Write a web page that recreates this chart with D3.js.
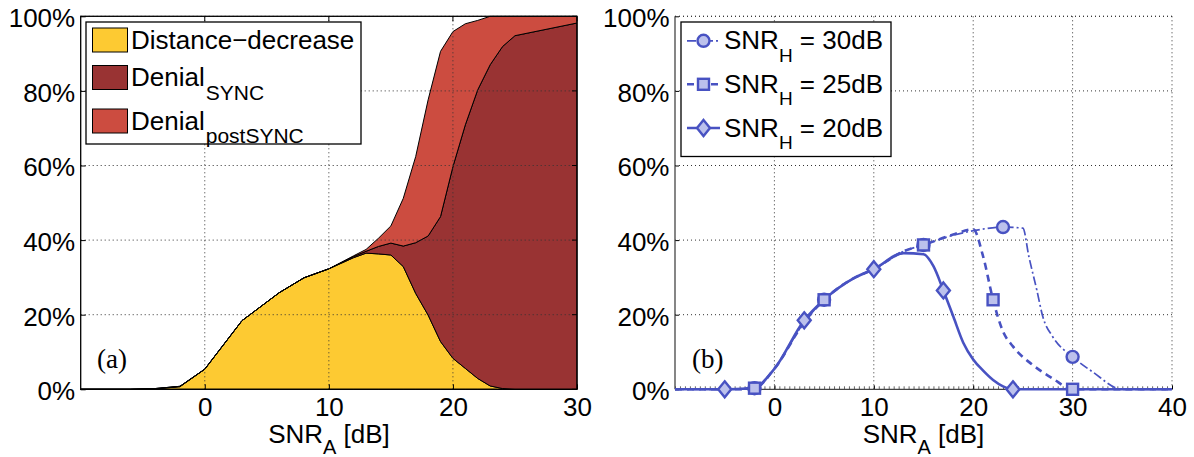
<!DOCTYPE html>
<html>
<head>
<meta charset="utf-8">
<script src="https://cdn.jsdelivr.net/npm/d3@7"></script>
<style>
  body { margin: 0; background: #fff; }
  svg { font-family: "Liberation Sans", Arial, sans-serif; }
</style>
</head>
<body>
<svg id="chart"></svg>
<script>
// (a) stacked areas, values in %
var snrLeft      = [-10, -6, -4, -2, 0, 3, 6, 8, 10, 12, 13, 14, 15, 16, 17, 18, 19, 20, 21, 22, 23, 24, 25, 30];
var distDecrease = [0, 0, 0.1, 0.7, 5.4, 18.4, 25.9, 29.9, 32.3, 35.3, 36.5, 36.3, 36.0, 32.9, 25.7, 19.9, 12.8, 8.3, 5.6, 2.9, 0.9, 0.2, 0, 0];
var denialSync   = [0, 0, 0.1, 0.1, 0, 0, 0, 0, 0, 0.3, 0.5, 2.0, 3.2, 5.5, 13.6, 21.2, 33.5, 51.4, 65.3, 77.4, 86.1, 91.7, 94.8, 98.2];
var denialPost   = [0, 0, 0, 0, 0, 0, 0, 0, 0, 0.2, 0.5, 2.2, 4.6, 12.8, 23.1, 36.5, 44.3, 36.2, 27.1, 18.6, 13.0, 8.1, 5.2, 1.8];

// (b) lines, values in %
var h30X = [-10, -4, -2, 0, 3, 5, 8, 10, 13, 15, 18, 20, 23, 25, 25.6, 26.4, 27, 28, 30, 32, 35, 40];
var h30Y = [0, 0, 0.3, 5.5, 18, 24, 29.8, 32.2, 37, 38.7, 41.3, 42.5, 43.5, 43.2, 35.6, 26.6, 19.5, 14.1, 8.7, 4.7, 0, 0];
var h25X = [-10, -4, -2, 0, 3, 5, 8, 10, 13, 15, 18, 20, 21, 22, 23, 24, 26, 28, 30, 40];
var h25Y = [0, 0, 0.3, 5.5, 18, 24, 29.8, 32.2, 37, 38.7, 41.5, 42.9, 35.6, 24, 15.5, 11.5, 6.5, 2.9, 0, 0];
var h20X = [-10, -5, -2, 0, 3, 5, 8, 10, 13, 15, 16, 17, 18, 19, 20, 21, 22, 23, 24, 40];
var h20Y = [0, 0, 0.5, 5.5, 18.5, 24, 29.8, 32.2, 36.5, 36.2, 33, 26.5, 19.5, 12.5, 8, 5, 2.5, 0.8, 0, 0];
var h30Marks = [-2, 5, 15, 23, 30];
var h25Marks = [-2, 5, 15, 22, 30];
var h20Marks = [-5, 3, 10, 17, 24];

var yTicks     = [0, 20, 40, 60, 80, 100];
var xTicksLeft = [0, 10, 20, 30];
var xTicksRight = [0, 10, 20, 30, 40];

var width = 1194, height = 457;
var fontSize = 26;
var svg = d3.select('#chart').attr('width', width).attr('height', height);
svg.append('rect').attr('width', width).attr('height', height).attr('fill', '#fff');

var y = d3.scaleLinear().domain([0, 100]).range([389.3, 16.3]);
var xL = d3.scaleLinear().domain([-10, 30]).range([80.7, 577]);
var xR = d3.scaleLinear().domain([-10, 40]).range([675, 1172]);

var colors = ['#fdca32', '#993333', '#cc4c40'];
var blue = '#4852c2', lightBlue = '#bcc1ec';

// ---------- panel (a) ----------
var rows = snrLeft.map(function(s, i) {
    return { snr: s, dist: distDecrease[i], sync: denialSync[i], post: denialPost[i] };
});
var stack = d3.stack().keys(['dist', 'sync', 'post']);
var layers = stack(rows);

var area = d3.area()
    .x(function(d) { return xL(d.data.snr); })
    .y0(function(d) { return y(d[0]); })
    .y1(function(d) { return y(d[1]); });

var gA = svg.append('g');
gA.selectAll('path.layer')
    .data(layers)
    .enter()
    .append('path')
    .attr('class', 'layer')
    .attr('d', area)
    .attr('fill', function(d, i) { return colors[i]; })
    .attr('stroke', '#000')
    .attr('stroke-width', 1)
    .attr('stroke-linejoin', 'round');

function grid(g, xs, xTicks, dom) {
    g.append('g').selectAll('line')
        .data(xTicks.filter(function(t) { return t > dom[0] && t < dom[1]; }))
        .enter().append('line')
        .attr('x1', xs).attr('x2', xs)
        .attr('y1', y(0)).attr('y2', y(100))
        .attr('stroke', '#333').attr('stroke-width', 1).attr('stroke-dasharray', '1,3');
    g.append('g').selectAll('line')
        .data(yTicks.filter(function(t) { return t > 0; }))
        .enter().append('line')
        .attr('x1', xs(dom[0])).attr('x2', xs(dom[1]))
        .attr('y1', y).attr('y2', y)
        .attr('stroke', '#333').attr('stroke-width', 1).attr('stroke-dasharray', '1,3');
}
grid(gA, xL, xTicksLeft, [-10, 30]);

function axes(g, xs, xTicks, tickIn) {
    var ax = g.append('g')
        .attr('transform', 'translate(0,' + y(0) + ')')
        .call(d3.axisBottom(xs).tickValues(xTicks).tickSizeInner(tickIn).tickSizeOuter(0).tickPadding(8));
    ax.select('.domain').remove();
    ax.selectAll('text').attr('font-size', fontSize).attr('font-family', null).attr('fill', '#000');
    var ay = g.append('g')
        .attr('transform', 'translate(' + xs.range()[0] + ',0)')
        .call(d3.axisLeft(y).tickValues(yTicks).tickFormat(function(d) { return d + '%'; })
            .tickSizeInner(tickIn).tickSizeOuter(0).tickPadding(5.5));
    ay.select('.domain').remove();
    ay.selectAll('text').attr('font-size', fontSize).attr('font-family', null).attr('fill', '#000').attr('dy', '0.4em');
}
axes(gA, xL, xTicksLeft, -5);

// right / top inner ticks
gA.append('g').selectAll('line').data(yTicks).enter().append('line')
    .attr('x1', xL(30)).attr('x2', xL(30) - 5).attr('y1', y).attr('y2', y)
    .attr('stroke', '#000');
gA.append('g').selectAll('line').data(xTicksLeft).enter().append('line')
    .attr('x1', xL).attr('x2', xL).attr('y1', y(100)).attr('y2', y(100) + 5)
    .attr('stroke', '#000');

gA.append('rect')
    .attr('x', xL(-10)).attr('y', y(100))
    .attr('width', xL(30) - xL(-10)).attr('height', y(0) - y(100))
    .attr('fill', 'none').attr('stroke', '#000').attr('stroke-width', 1.3);

// legend (a)
var legA = gA.append('g');
legA.append('rect').attr('x', 86).attr('y', 22).attr('width', 275).attr('height', 122)
    .attr('fill', '#fff').attr('stroke', '#000').attr('stroke-width', 1.3);
var legNames = [['Distance\u2212decrease', ''], ['Denial', 'SYNC'], ['Denial', 'postSYNC']];
var legTop = [28, 65.5, 109];
legNames.forEach(function(n, i) {
    legA.append('rect').attr('x', 92.5).attr('y', legTop[i]).attr('width', 35).attr('height', 24)
        .attr('fill', colors[i]).attr('stroke', '#000').attr('stroke-width', 1);
    var t = legA.append('text').attr('x', 131).attr('y', legTop[i] + 20.5).attr('font-size', fontSize);
    t.append('tspan').text(n[0]);
    if (n[1]) t.append('tspan').attr('dx', 1).attr('dy', 13.5).attr('font-size', 21).text(n[1]);
});

gA.append('text').attr('x', 97).attr('y', 368)
    .attr('font-family', '"Liberation Serif", "Times New Roman", serif').attr('font-size', 27)
    .text('(a)');

function xLabel(g, cx) {
    var t = g.append('text').attr('x', cx).attr('y', 443).attr('font-size', fontSize)
        .attr('text-anchor', 'middle');
    t.append('tspan').text('SNR');
    t.append('tspan').attr('dy', 11).attr('font-size', 20).text('A');
    t.append('tspan').attr('dy', -11).text(' [dB]');
}
xLabel(gA, 329);

// ---------- panel (b) ----------
var gB = svg.append('g');
grid(gB, xR, xTicksRight.concat([40]), [-10, 40]);
gB.append('line').attr('x1', xR(40)).attr('x2', xR(40)).attr('y1', y(0)).attr('y2', y(100))
    .attr('stroke', '#333').attr('stroke-dasharray', '1,3');
gB.append('line').attr('x1', xR(-10)).attr('x2', xR(40)).attr('y1', y(100)).attr('y2', y(100))
    .attr('stroke', '#333').attr('stroke-dasharray', '1,3');

// minor ticks along bottom
var minor = gB.append('g').attr('transform', 'translate(0,' + y(0) + ')')
    .call(d3.axisBottom(xR).ticks(75).tickSize(-3).tickFormat(''));
minor.select('.domain').remove();
minor.selectAll('line').attr('stroke', '#666');

axes(gB, xR, xTicksRight, -4);
gB.append('line').attr('x1', xR(-10)).attr('x2', xR(40)).attr('y1', y(0)).attr('y2', y(0))
    .attr('stroke', '#444').attr('stroke-width', 1.3);
gB.append('line').attr('x1', xR(-10)).attr('x2', xR(-10)).attr('y1', y(0)).attr('y2', y(100))
    .attr('stroke', '#444').attr('stroke-width', 1.3);

var series = [
    { xs: h30X, ys: h30Y, marks: h30Marks, dash: '9,3,2,3', sw: 1.7, shape: 'circle', label: '30dB' },
    { xs: h25X, ys: h25Y, marks: h25Marks, dash: '7,5', sw: 2.6, shape: 'square', label: '25dB' },
    { xs: h20X, ys: h20Y, marks: h20Marks, dash: null, sw: 2.6, shape: 'diamond', label: '20dB' }
];

var line = d3.line()
    .x(function(d) { return xR(d[0]); })
    .y(function(d) { return y(d[1]); })
    .curve(d3.curveMonotoneX);

function marker(g, shape, cx, cy) {
    var m;
    if (shape === 'circle') {
        m = g.append('circle').attr('cx', cx).attr('cy', cy).attr('r', 6);
    } else if (shape === 'square') {
        m = g.append('rect').attr('x', cx - 5.5).attr('y', cy - 5.5).attr('width', 11).attr('height', 11);
    } else {
        m = g.append('path').attr('d', 'M' + cx + ',' + (cy - 8) + 'L' + (cx + 6.5) + ',' + cy +
            'L' + cx + ',' + (cy + 8) + 'L' + (cx - 6.5) + ',' + cy + 'Z');
    }
    m.attr('fill', lightBlue).attr('stroke', blue).attr('stroke-width', 2.4);
}

series.forEach(function(s) {
    var pts = s.xs.map(function(v, i) { return [v, s.ys[i]]; });
    gB.append('path').datum(pts)
        .attr('d', line)
        .attr('fill', 'none')
        .attr('stroke', blue)
        .attr('stroke-width', s.sw)
        .attr('stroke-dasharray', s.dash);
});
series.forEach(function(s) {
    s.marks.forEach(function(m) {
        var v = s.ys[s.xs.indexOf(m)];
        marker(gB, s.shape, xR(m), y(v));
    });
});

// legend (b)
var legB = gB.append('g');
legB.append('rect').attr('x', 681).attr('y', 22).attr('width', 210).attr('height', 134.5)
    .attr('fill', '#fff').attr('stroke', '#000').attr('stroke-width', 1.3);
var legBase = [49.3, 92.8, 136.5];
series.forEach(function(s, i) {
    var cy = legBase[i] - 8.5;
    legB.append('line').attr('x1', 687).attr('x2', 720).attr('y1', cy).attr('y2', cy)
        .attr('stroke', blue).attr('stroke-width', s.sw).attr('stroke-dasharray', s.dash);
    marker(legB, s.shape, 703.5, cy);
    var t = legB.append('text').attr('x', 724).attr('y', legBase[i]).attr('font-size', fontSize);
    t.append('tspan').text('SNR');
    t.append('tspan').attr('dy', 12.5).attr('font-size', 19).text('H');
    t.append('tspan').attr('dy', -12.5).text(' = ' + s.label);
});

gB.append('text').attr('x', 692).attr('y', 368)
    .attr('font-family', '"Liberation Serif", "Times New Roman", serif').attr('font-size', 27)
    .text('(b)');

xLabel(gB, 923.5);
</script>
</body>
</html>
